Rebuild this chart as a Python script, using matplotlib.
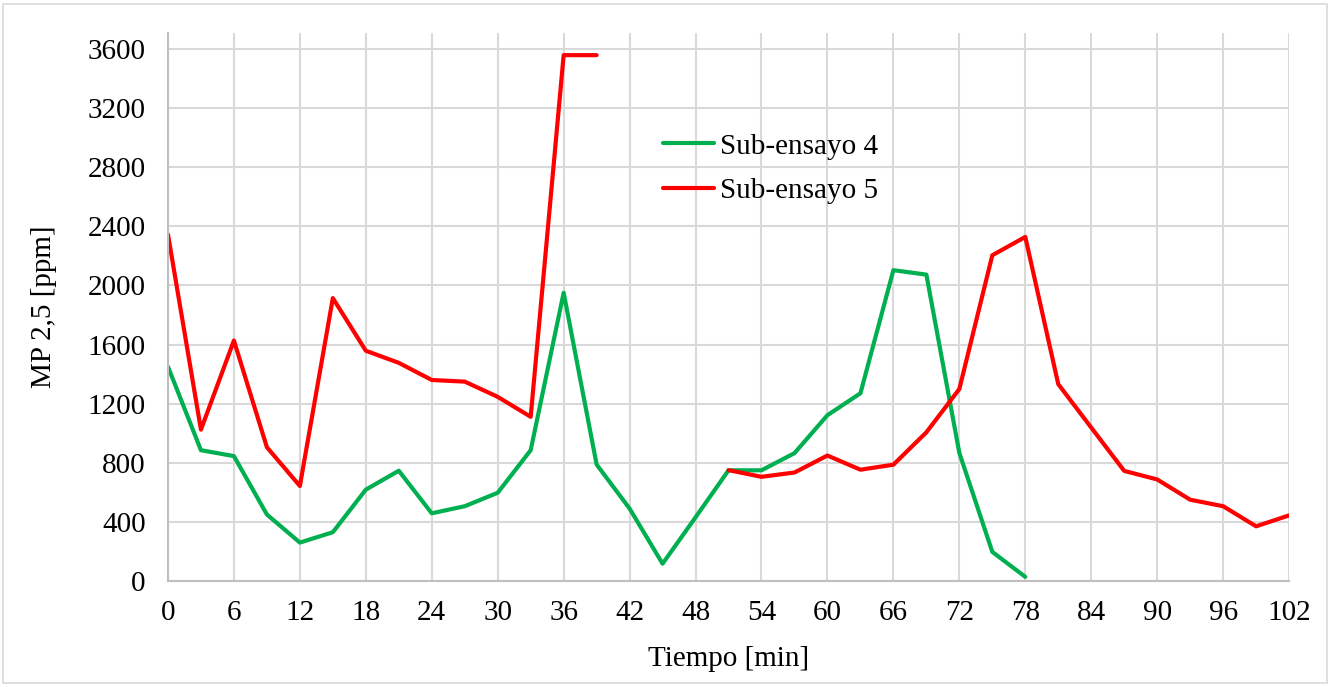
import numpy as np
import matplotlib
matplotlib.use("Agg")
import matplotlib.pyplot as plt
from matplotlib.patches import Rectangle

# Datos (cada 3 minutos)
tiempo = list(range(0, 105, 3))
sub4 = [1450, 885, 845, 450, 260, 330, 618, 746, 458, 506, 597, 885, 1950,
        788, 490, 117, 431, 749, 749, 865, 1122, 1270, 2103, 2073, 867, 197, 28]
sub5 = [2345, 1024, 1627, 905, 643, 1914, 1558, 1476, 1360, 1349, 1246, 1111,
        3558, 3558, np.nan, np.nan, np.nan, 750, 705, 734, 849, 753, 787, 1006,
        1299, 2204, 2328, 1332, 1038, 745, 687, 550, 506, 370, 444]

plt.rcParams['font.family'] = ['Liberation Serif', 'DejaVu Serif']

fig = plt.figure(figsize=(13.31, 6.87), dpi=100)
ax = fig.add_axes([0.1262, 0.1543, 0.8423, 0.7977])

ax.plot(tiempo[:len(sub4)], sub4, color='#00B050', lw=3, label='Sub-ensayo 4',
        solid_joinstyle='round', solid_capstyle='round')
ax.plot(tiempo, sub5, color='#FF0000', lw=3, label='Sub-ensayo 5',
        solid_joinstyle='round', solid_capstyle='round')

ax.set_xlim(0, 102)
ax.set_ylim(0, 3708)
ax.set_xticks(range(0, 103, 6))
ax.set_yticks(range(0, 3601, 400))
ax.tick_params(axis='both', length=0, labelsize=21)
ax.tick_params(axis='x', pad=14)
ax.tick_params(axis='y', pad=16)
ax.grid(True, color='#d9d9d9', lw=1.5)
ax.set_axisbelow(True)

for s in ['top', 'right']:
    ax.spines[s].set_visible(False)
for s in ['left', 'bottom']:
    ax.spines[s].set_color('#bfbfbf')
    ax.spines[s].set_linewidth(1.5)

ax.set_xlabel('Tiempo [min]', fontsize=21, labelpad=14)
ax.set_ylabel('MP 2,5 [ppm]', fontsize=21, labelpad=22)

ax.legend(loc='upper left', bbox_to_anchor=(0.418, 0.865), frameon=False,
          fontsize=21, handlelength=1.75, handletextpad=0.2, labelspacing=0.62)

# borde del area del grafico
fig.patches.append(Rectangle((0.002, 0.006), 0.995, 0.988, transform=fig.transFigure,
                             fill=False, edgecolor='#d9d9d9', lw=1.2))

fig.savefig('out.png', dpi=100)
